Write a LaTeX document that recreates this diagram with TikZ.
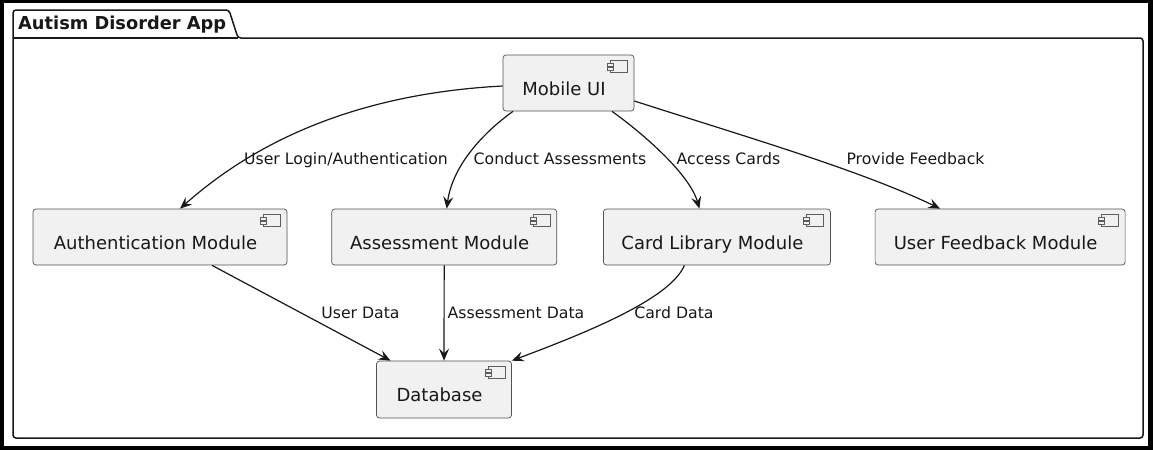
\documentclass[tikz,border=0pt]{standalone}
\usepackage{fontspec}
\setmainfont{DejaVu Sans}
\usepackage{xcolor}
\usepackage{tikz}
\usetikzlibrary{arrows.meta,
                positioning,
                shapes}
\definecolor{umlline}{HTML}{181818}
\definecolor{umlfill}{HTML}{F1F1F1}
\tikzstyle{module} = [rectangle, rounded corners=3pt, draw=umlline!75, fill=umlfill, line width=0.7pt, minimum height=56pt, text height=27.2pt, text depth=3pt, text=umlline, font=\fontsize{18}{21}\selectfont, execute at end node={\hspace*{9pt}}]
\tikzstyle{arrow} = [line width=1.2pt, draw=umlline, -{Stealth[length=12pt,width=10pt,inset=4.5pt]}]
\tikzstyle{edgelabel} = [inner sep=0pt, text height=11pt, text depth=3pt, text=umlline, font=\fontsize{15.7}{18}\selectfont]
\tikzstyle{icon} = [draw=umlline!70, line width=0.6pt, fill=umlfill]

\begin{document}
\begin{tikzpicture}[x=1pt, y=-1pt]
    \fill[black] (0,0) rectangle (1153,450);
    \fill[white] (4,3) rectangle (1148,446);
    \draw[umlline, line width=1.5pt, rounded corners=3pt] (13,38) -- (13,10) -- (229,10) -- (238,38) -- (1143,38) -- (1143,438) -- (13,438) -- cycle;
    \draw[umlline, line width=1.5pt] (13,38) -- (238,38);
    \node[anchor=base west, inner sep=0pt, text=umlline, font=\bfseries\fontsize{17.8}{21}\selectfont] (title) at (18,29.5) {Autism Disorder App};

    \node[module, minimum width=131pt] (ui) at (568.5,83) {Mobile UI};
    \node[module, minimum width=254pt] (auth) at (160,237) {Authentication Module};
    \node[module, minimum width=225pt] (assess) [right=44pt of auth] {Assessment Module};
    \node[module, minimum width=227pt] (cards) [right=46pt of assess] {Card Library Module};
    \node[module, minimum width=250pt] (feedback) [right=44pt of cards] {User Feedback Module};
    \node[module, minimum width=135pt, minimum height=57pt] (db) at (444,389.5) {Database};

    \foreach \n in {ui,auth,assess,cards,feedback,db} {
        \draw[icon] ([xshift=-24pt,yshift=-6pt]\n.north east) rectangle ++(17pt,-12pt);
        \draw[icon] ([xshift=-27pt,yshift=-8.5pt]\n.north east) rectangle ++(6pt,-3pt);
        \draw[icon] ([xshift=-27pt,yshift=-13pt]\n.north east) rectangle ++(6pt,-3pt);
    }

    \draw [arrow] ([yshift=-3pt]ui.west) .. controls (330,95) and (235,160) .. ([xshift=20pt]auth.north);
    \draw [arrow] ([xshift=-55.5pt]ui.south) .. controls (480,135) and (452,168) .. ([xshift=2.5pt]assess.north);
    \draw [arrow] ([xshift=43.5pt]ui.south) .. controls (645,135) and (690,175) .. ([xshift=-17.5pt]cards.north);
    \draw [arrow] ([yshift=-18pt]ui.east) .. controls (740,135) and (860,170) .. ([xshift=-60pt]feedback.north);
    \draw [arrow] ([xshift=52pt]auth.south) -- ([xshift=-53.5pt]db.north);
    \draw [arrow] (assess) -- (db);
    \draw [arrow] ([xshift=-32.5pt]cards.south) .. controls (670,300) and (580,335) .. (db.north east);

    \node[edgelabel] (loginlbl) at (346,160) {User Login/Authentication};
    \node[edgelabel] (assesslbl) at (560,160) {Conduct Assessments};
    \node[edgelabel] (cardslbl) at (728.5,160) {Access Cards};
    \node[edgelabel] (feedbacklbl) at (915.5,160) {Provide Feedback};
    \node[edgelabel] (userdatalbl) at (360.5,314) {User Data};
    \node[edgelabel] (assessdatalbl) at (516,314) {Assessment Data};
    \node[edgelabel] (carddatalbl) at (674,314) {Card Data};
\end{tikzpicture}
\end{document}
